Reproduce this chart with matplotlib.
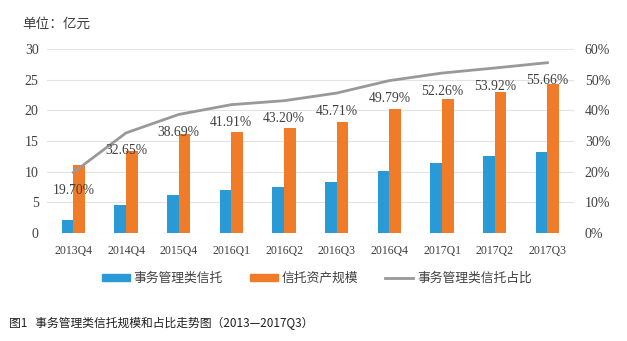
import numpy as np
import matplotlib
matplotlib.use("Agg")
import matplotlib.pyplot as plt
from matplotlib.lines import Line2D
from matplotlib.patches import Patch

plt.rcParams['font.family'] = ['Noto Sans CJK SC', 'DejaVu Sans']

# data
quarters = ['2013Q4', '2014Q4', '2015Q4', '2016Q1', '2016Q2',
            '2016Q3', '2016Q4', '2017Q1', '2017Q2', '2017Q3']
affairs = [2.0, 4.5, 6.2, 6.9, 7.4, 8.3, 10.05, 11.4, 12.5, 13.2]
assets = [11.0, 13.4, 16.1, 16.5, 17.2, 18.1, 20.2, 21.9, 23.1, 24.4]
share = [19.70, 32.65, 38.69, 41.91, 43.20, 45.71, 49.79, 52.26, 53.92, 55.66]

blue = '#2A9AD6'
orange = '#F07B28'
grey = '#999999'
num_font = ['Liberation Serif', 'DejaVu Serif']

fig = plt.figure(figsize=(6.27, 3.41), dpi=100)
ax = fig.add_axes([0.075, 0.318, 0.84, 0.537])
ax2 = ax.twinx()

x = np.arange(len(quarters))
w = 0.22
ax.bar(x - w / 2, affairs, w, color=blue, zorder=3)
ax.bar(x + w / 2, assets, w, color=orange, zorder=3)

ax.set_xlim(-0.5, len(quarters) - 0.5)
ax.set_ylim(0, 30)
ax.set_yticks(range(0, 31, 5))
ax.grid(axis='y', color='#E3E3E3', lw=0.8, zorder=0)
ax.set_xticks(x)
ax.set_xticklabels(quarters, family=num_font, fontsize=8.5, color='#404040')
for lab in ax.get_yticklabels():
    lab.set_family(num_font)
    lab.set_fontsize(10)
    lab.set_color('#404040')
ax.tick_params(length=0, pad=6)
ax.tick_params(axis='x', pad=9)
for s in ax.spines.values():
    s.set_visible(False)

ax2.plot(x, share, color=grey, lw=2, zorder=4)
ax2.set_ylim(0, 60)
ax2.set_yticks(range(0, 61, 10))
ax2.set_yticklabels([f'{v}%' for v in range(0, 61, 10)],
                    family=num_font, fontsize=10, color='#404040')
ax2.tick_params(length=0, pad=8)
for s in ax2.spines.values():
    s.set_visible(False)

for xi, v in zip(x, share):
    ax2.annotate(f'{v:.2f}%', (xi, v), xytext=(0, -13), textcoords='offset points',
                 ha='center', va='center', family=num_font, fontsize=9.8,
                 color='#404040', zorder=5)

fig.text(0.036, 0.93, '单位：亿元', fontsize=9.8, color='#404040', va='center')

handles = [Patch(color=blue), Patch(color=orange), Line2D([], [], color=grey, lw=2)]
labels = ['事务管理类信托', '信托资产规模', '事务管理类信托占比']
fig.legend(handles, labels, loc='center', bbox_to_anchor=(0.505, 0.183), ncol=3,
           frameon=False, fontsize=9.2, handlelength=2.2, handleheight=0.55,
           columnspacing=2.1, handletextpad=0.3, labelcolor='#404040')

fig.text(0.014, 0.052, '图1   事务管理类信托规模和占比走势图（2013—2017Q3）',
         fontsize=8.5, color='#202020', va='center')

fig.savefig('out.png', dpi=100)
